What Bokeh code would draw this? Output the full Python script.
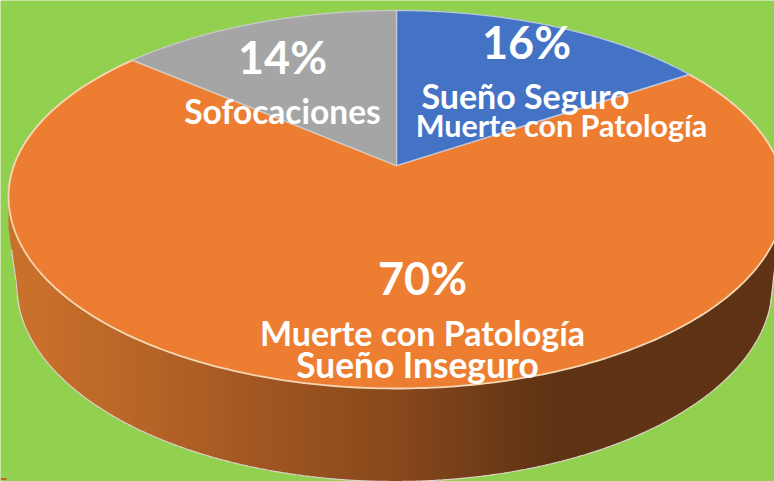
import numpy as np
from bokeh.plotting import figure
from bokeh.models import ColumnDataSource, Range1d
from bokeh.core.properties import value
from bokeh.embed import file_html
from bokeh.resources import INLINE

# --- data
slices = ["Sueño Seguro / Muerte con Patología", "Muerte con Patología / Sueño Inseguro", "Sofocaciones"]
shares = [16, 70, 14]
share_labels = ["16%", "70%", "14%"]
caption_labels = ["Sueño Seguro", "Muerte con Patología", "Sofocaciones", "Muerte con Patología", "Sueño Inseguro"]

# --- style / layout
BG, ORANGE, BLUE, GRAY = "#92D050", "#ED7D31", "#4472C4", "#A5A5A5"
W, H = 774, 481
FONT = "Lato"
CX, CY, RX, RY_UP, RY_LOW = 396, 196, 388, 186, 192   # top face
APEX_Y = 165
SX, SY, SRX, SRY = 394, 284, 378, 197                 # lower rim of the wall
FORESHORTEN = 0.85                                    # back of the tilted pie looks narrower
RAMP_X = [0, 40, 150, 250, 400, 500, 550, 790]
RAMP_R = [200, 200, 182, 163, 135, 108, 95, 95]
RAMP_G = [112, 112, 100, 88, 72, 58, 52, 51]
RAMP_B = [44, 44, 40, 34, 28, 24, 21, 20]

p = figure(width=W, height=H, output_backend="svg", toolbar_location=None,
           x_range=Range1d(0, W), y_range=Range1d(H, 0), min_border=0,
           background_fill_color=BG, border_fill_color=BG, outline_line_color=None)
p.axis.visible = False
p.grid.visible = False


def rim(t):
    """Point of the top face's rim; t in degrees clockwise from 12 o'clock."""
    r = np.radians(t)
    c = np.cos(r)
    return CX + RX * np.sin(r), CY - c * np.where(c > 0, RY_UP, RY_LOW)


def top_y(x):
    return CY + RY_LOW * np.sqrt(np.clip(1 - ((x - CX) / RX) ** 2, 0, 1))


def low_y(x):
    d = np.abs(x - SX)
    inner = SY + SRY * np.sqrt(np.clip(1 - (d / SRX) ** 2, 0, 1))
    outer = SY - (d - SRX) / (RX - SRX - 2) * 56
    return np.where(d <= SRX, inner, np.maximum(outer, top_y(x)))


# side wall: narrow strips through a colour ramp
edges = np.arange(CX - RX, CX + RX + 4, 4.0)
xs, ys, cols = [], [], []
for a, b in zip(edges[:-1], edges[1:]):
    xs.append([a, b + 1, b + 1, a])
    ys.append([float(top_y(a)), float(top_y(b + 1)), float(low_y(b + 1)), float(low_y(a))])
    m = (a + b) / 2
    cols.append("#%02x%02x%02x" % (int(np.interp(m, RAMP_X, RAMP_R)),
                                   int(np.interp(m, RAMP_X, RAMP_G)),
                                   int(np.interp(m, RAMP_X, RAMP_B))))
p.patches(xs, ys, fill_color=cols, line_color=None)

ex = np.linspace(CX - RX + 3, CX + RX, 500)
p.line(ex, low_y(ex), line_color="#DAD3C6", line_width=1.2)

# top face, angles derived from the shares
blue_end = shares[0] * 3.6 * FORESHORTEN
gray_start = 360 - shares[2] * 3.6 * FORESHORTEN


def wedge(t0, t1, color, edge, lw):
    rx_, ry_ = rim(np.linspace(t0, t1, 240))
    px = np.r_[CX, rx_]
    py = np.r_[APEX_Y, ry_]
    p.patch(px, py, fill_color=color, line_color=edge, line_width=lw, line_join="round")


wedge(blue_end, gray_start, ORANGE, "#F6D7B4", 1.8)
wedge(0, blue_end, BLUE, "#B9C6DF", 1.3)
wedge(gray_start, 360, GRAY, "#C9C9C9", 1.3)

# small stray mark at the bottom left of the source image
p.segment([0], [478.5], [6], [478.5], line_color="#D2451E", line_width=1.5)

# texts
big = ColumnDataSource(dict(x=[526, 422, 282], y=[41, 277, 56], t=share_labels))
p.text("x", "y", "t", source=big, text_color="white", text_font=value(FONT),
       text_font_style="bold", text_font_size="45px",
       text_align="center", text_baseline="middle")
cap = ColumnDataSource(dict(x=[525, 561, 282, 422, 417], y=[95, 124, 110, 332, 364],
                            t=caption_labels,
                            fs=[f"{v:.1f}px" for v in [34, 30.5, 33.5, 34, 35.3]]))
p.text("x", "y", "t", source=cap, text_color="white", text_font=value(FONT),
       text_font_style="bold", text_font_size="fs",
       text_align="center", text_baseline="middle")

open("out.html", "w").write(file_html(p, INLINE))
